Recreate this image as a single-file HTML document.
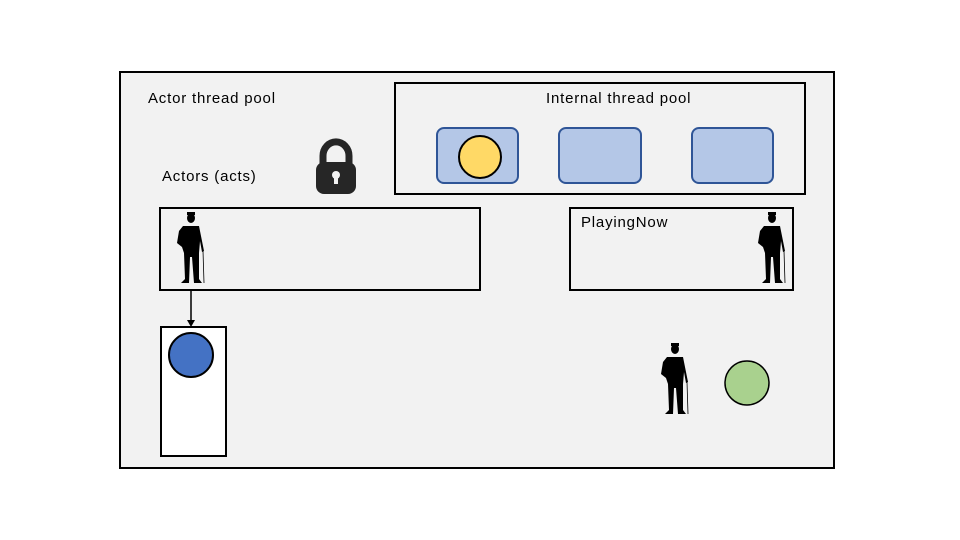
<!DOCTYPE html>
<html><head><meta charset="utf-8"><style>body{margin:0;background:#fff}svg{display:block}text{font-family:"Liberation Sans",sans-serif;font-size:15px;letter-spacing:0.8px;fill:#000}</style></head>
<body>
<svg width="960" height="540" viewBox="0 0 960 540">
<defs>
<g id="man">
<rect x="-4" y="-1" width="8" height="3" fill="#000"/>
<ellipse cx="0" cy="5" rx="4" ry="5" fill="#000"/>
<path d="M-8,13 L8,13 L11,28 L13,38 L11,39 L9,28 L8,40 L8,66 L11,70 L3,70 L1,44 L-1,44 L-2,70 L-10,70 L-6,66 L-7,40 L-9,34 L-14,30 L-12,18 Z" fill="#000"/>
<line x1="12" y1="38" x2="13" y2="70" stroke="#000" stroke-width="0.8"/>
</g>
</defs>
<rect x="120" y="72" width="714" height="396" fill="#f2f2f2" stroke="#000" stroke-width="2"/>
<text x="148" y="103">Actor thread pool</text>
<rect x="395" y="83" width="410" height="111" fill="none" stroke="#000" stroke-width="2"/>
<text x="546" y="103">Internal thread pool</text>
<rect x="437" y="128" width="81" height="55" rx="7" fill="#b4c7e7" stroke="#2f5597" stroke-width="2"/>
<rect x="559" y="128" width="82" height="55" rx="7" fill="#b4c7e7" stroke="#2f5597" stroke-width="2"/>
<rect x="692" y="128" width="81" height="55" rx="7" fill="#b4c7e7" stroke="#2f5597" stroke-width="2"/>
<circle cx="480" cy="157" r="21" fill="#ffd966" stroke="#000" stroke-width="2"/>
<text x="162" y="181">Actors (acts)</text>
<path d="M323,164 V156 A12,13 0 0 1 349,156 V164" fill="none" stroke="#262626" stroke-width="7"/>
<rect x="316" y="162" width="40" height="32" rx="8" fill="#262626"/>
<circle cx="336" cy="175" r="4" fill="#f2f2f2"/><rect x="334" y="176" width="4" height="8" fill="#f2f2f2"/>
<rect x="160" y="208" width="320" height="82" fill="#f2f2f2" stroke="#000" stroke-width="2"/>
<use href="#man" transform="translate(191,213)"/>
<rect x="570" y="208" width="223" height="82" fill="#f2f2f2" stroke="#000" stroke-width="2"/>
<text x="581" y="227">PlayingNow</text>
<use href="#man" transform="translate(772,213)"/>
<line x1="191" y1="290" x2="191" y2="321" stroke="#000" stroke-width="1.5"/>
<path d="M187,320 L195,320 L191,327 Z" fill="#000"/>
<rect x="161" y="327" width="65" height="129" fill="#fff" stroke="#000" stroke-width="2"/>
<circle cx="191" cy="355" r="22" fill="#4472c4" stroke="#000" stroke-width="2"/>
<use href="#man" transform="translate(675,344)"/>
<circle cx="747" cy="383" r="22" fill="#a9d18e" stroke="#000" stroke-width="1.5"/>
</svg>
</body></html>
